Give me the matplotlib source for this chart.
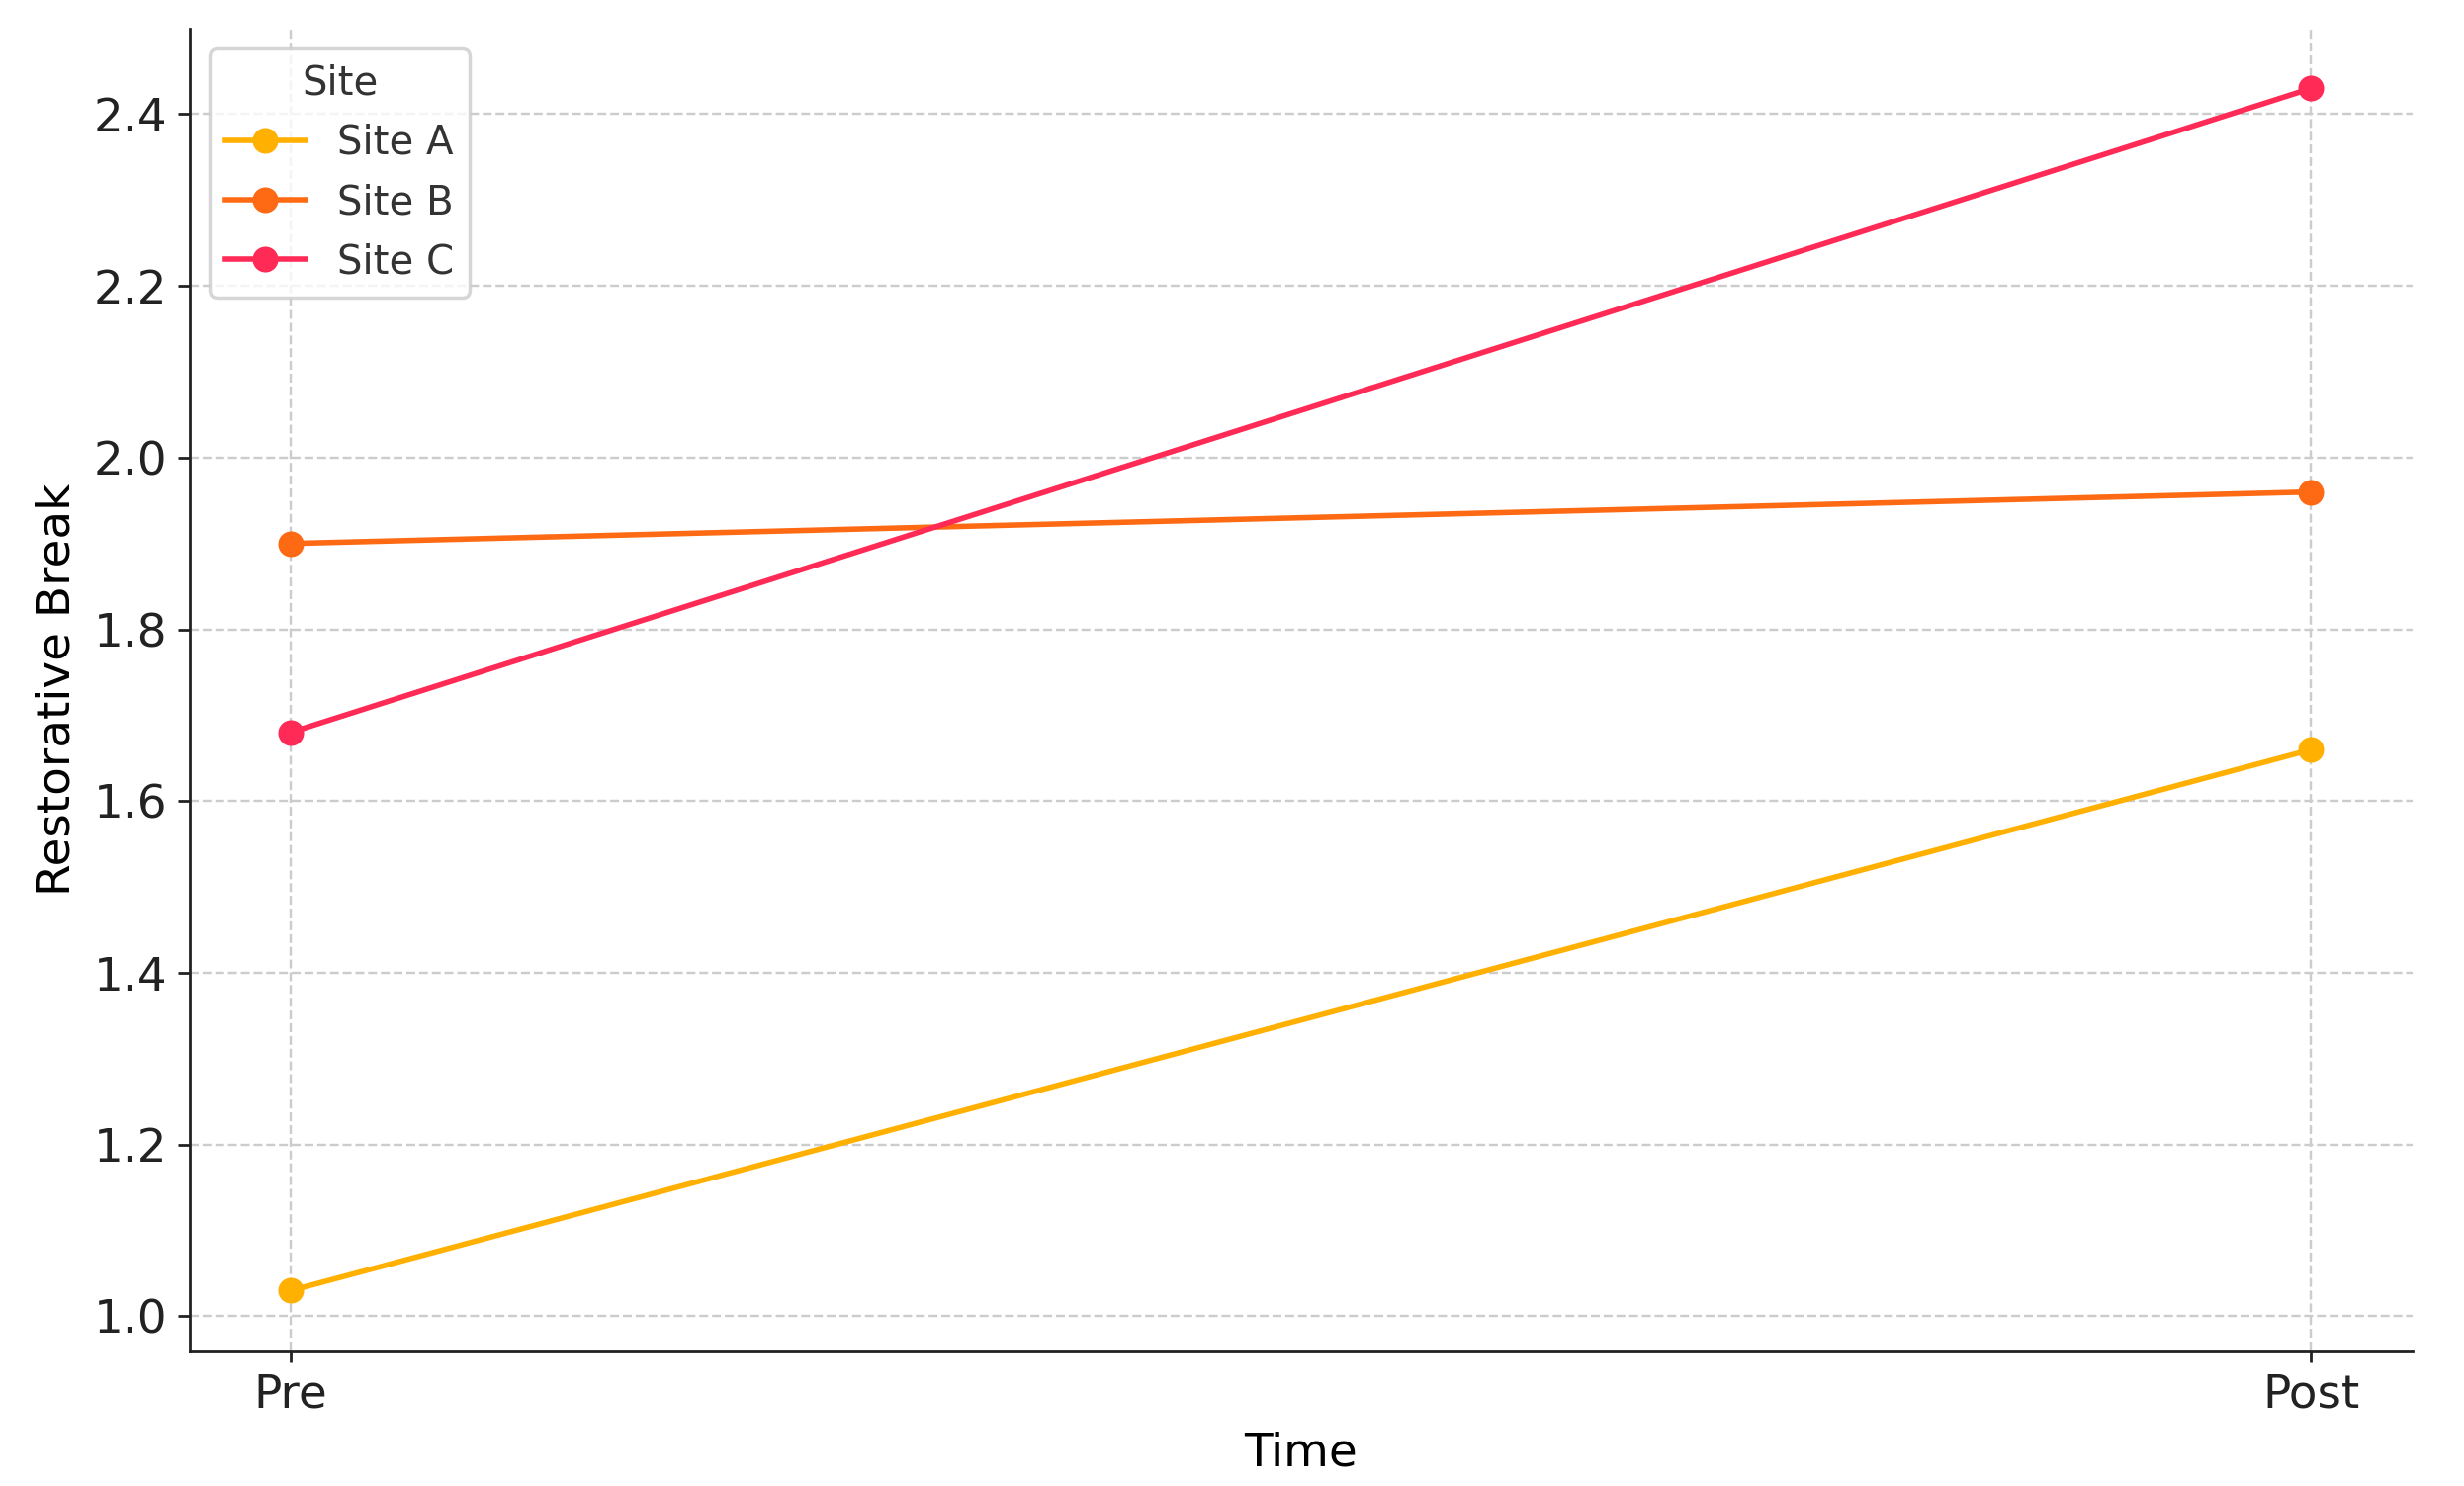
import matplotlib
matplotlib.use("Agg")
import matplotlib.pyplot as plt

times = ["Pre", "Post"]
sites = ["Site A", "Site B", "Site C"]
site_a = [1.03, 1.66]
site_b = [1.90, 1.96]
site_c = [1.68, 2.43]
colors = ["#FFB000", "#FE6A14", "#FF2A55"]


def main():
    fig, ax = plt.subplots(figsize=(9.968, 6.012), dpi=250)
    x = list(range(len(times)))
    for name, vals, col in zip(sites, [site_a, site_b, site_c], colors):
        ax.plot(x, vals, marker="o", color=col, linewidth=1.6, markersize=6.5, label=name)

    ax.set_xticks(x)
    ax.set_xticklabels(times)
    ax.tick_params(axis="both", labelsize=13.5, colors="#222222", pad=3)
    ax.set_xlabel("Time", fontsize=13.5)
    ax.set_ylabel("Restorative Break", fontsize=13.5)
    ax.grid(True, linestyle="--", color="#cccccc", linewidth=0.7)
    for s in ["top", "right"]:
        ax.spines[s].set_visible(False)
    for s in ["left", "bottom"]:
        ax.spines[s].set_color("#222222")

    leg = ax.legend(title="Site", loc="upper left", fontsize=11.6, title_fontsize=11.6)
    leg.get_title().set_color("#333333")
    for t in leg.get_texts():
        t.set_color("#333333")

    fig.subplots_adjust(left=0.077, right=0.979, top=0.981, bottom=0.091)
    fig.savefig("out.png")


if __name__ == "__main__":
    main()
